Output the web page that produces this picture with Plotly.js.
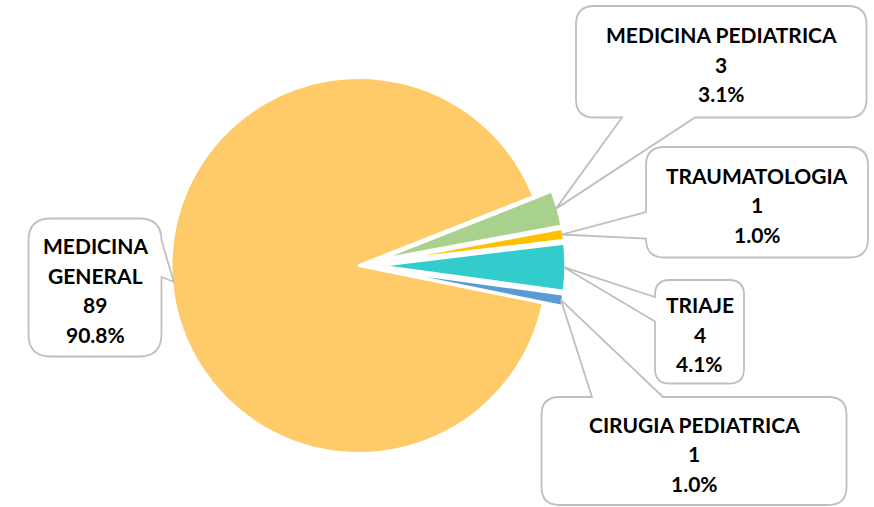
<!DOCTYPE html>
<html>
<head>
<meta charset="utf-8">
<script src="https://cdn.plot.ly/plotly-3.0.1.min.js"></script>
<style>
  html, body { margin: 0; padding: 0; background: #ffffff; }
  #chart { width: 874px; height: 507px; }
</style>
</head>
<body>
<div id="chart"></div>
<script>
// ---- data ----
const categories = ['MEDICINA GENERAL', 'MEDICINA PEDIATRICA', 'TRAUMATOLOGIA', 'TRIAJE', 'CIRUGIA PEDIATRICA'];
const values = [89, 3, 1, 4, 1];
const labelLines = [['MEDICINA', 'GENERAL'], ['MEDICINA PEDIATRICA'], ['TRAUMATOLOGIA'], ['TRIAJE'], ['CIRUGIA PEDIATRICA']];

// ---- styling / layout ----
const colors = ['#FFCB69', '#A9D18E', '#FFC000', '#33CCCC', '#5B9BD5'];
const pulls = [0, 0.1, 0.1, 0.1, 0.1];
const W = 874, H = 507;
const CX = 359, CY = 265.5, R = 188, ROT = 101.5;
const LINE_W = 3;
const FONT = {family: 'Lato, "Open Sans", sans-serif', size: 21, color: '#000000', weight: 700};
const LINE_GAP = 29.5, TEXT_OFF = 2.5;

// callout boxes (pixels): x0,x1,y0,y1, side of tail, tail base positions
const boxes = [
  {x0: 28.5, x1: 161.5, y0: 218.5, y1: 356.5, side: 'right', b1: 240, b2: 277},
  {x0: 576, x1: 866.5, y0: 6, y1: 117.5, side: 'bottom', b1: 622, b2: 695},
  {x0: 646, x1: 868, y0: 147, y1: 257.5, side: 'left', b1: 212, b2: 238.5},
  {x0: 655, x1: 744, y0: 280, y1: 383.5, side: 'left', b1: 297, b2: 321.5},
  {x0: 541.5, x1: 846.5, y0: 397, y1: 505, side: 'top', b1: 592, b2: 663}
];

const total = values.reduce((a, b) => a + b, 0);
const maxPull = Math.max.apply(null, pulls);
const half = R * (1 + maxPull);
const domain = {
  x: [(CX - half) / W, (CX + half) / W],
  y: [1 - (CY + half) / H, 1 - (CY - half) / H]
};

const px = x => x / W;
const py = y => 1 - y / H;
const P = (x, y) => px(x).toFixed(5) + ',' + py(y).toFixed(5);

// tip points on slice rims from data
let cum = 0;
const tips = values.map((v, i) => {
  const mid = (ROT + (cum + v / 2) / total * 360) * Math.PI / 180;
  cum += v;
  const d = pulls[i] * R + R - LINE_W / 2 - 0.5;
  return [CX + d * Math.sin(mid), CY - d * Math.cos(mid)];
});

function callout(b, tip) {
  const r = Math.min(b.x1 - b.x0, b.y1 - b.y0) * 0.1667;
  const T = P(tip[0], tip[1]);
  let s = 'M' + P(b.x0 + r, b.y0);
  if (b.side === 'top') s += ' L' + P(b.b1, b.y0) + ' L' + T + ' L' + P(b.b2, b.y0);
  s += ' L' + P(b.x1 - r, b.y0) + ' Q' + P(b.x1, b.y0) + ' ' + P(b.x1, b.y0 + r);
  if (b.side === 'right') s += ' L' + P(b.x1, b.b1) + ' L' + T + ' L' + P(b.x1, b.b2);
  s += ' L' + P(b.x1, b.y1 - r) + ' Q' + P(b.x1, b.y1) + ' ' + P(b.x1 - r, b.y1);
  if (b.side === 'bottom') s += ' L' + P(b.b2, b.y1) + ' L' + T + ' L' + P(b.b1, b.y1);
  s += ' L' + P(b.x0 + r, b.y1) + ' Q' + P(b.x0, b.y1) + ' ' + P(b.x0, b.y1 - r);
  if (b.side === 'left') s += ' L' + P(b.x0, b.b2) + ' L' + T + ' L' + P(b.x0, b.b1);
  s += ' L' + P(b.x0, b.y0 + r) + ' Q' + P(b.x0, b.y0) + ' ' + P(b.x0 + r, b.y0) + ' Z';
  return s;
}

const shapes = boxes.map((b, i) => ({
  type: 'path', xref: 'paper', yref: 'paper', layer: 'above',
  path: callout(b, tips[i]),
  fillcolor: '#ffffff',
  line: {color: '#BFBFBF', width: 1.8}
}));

const annotations = [];
boxes.forEach((b, i) => {
  const lines = labelLines[i].concat([String(values[i]), (values[i] / total * 100).toFixed(1) + '%']);
  const cy = (b.y0 + b.y1) / 2 + TEXT_OFF;
  const cx = (b.x0 + b.x1) / 2;
  lines.forEach((t, k) => {
    const y = cy + (k - (lines.length - 1) / 2) * LINE_GAP;
    annotations.push({
      xref: 'paper', yref: 'paper', x: px(cx), y: py(y),
      xanchor: 'center', yanchor: 'middle', showarrow: false,
      text: t, font: FONT
    });
  });
});

const trace = {
  type: 'pie',
  labels: categories,
  values: values,
  sort: false,
  direction: 'clockwise',
  rotation: ROT,
  pull: pulls,
  marker: {colors: colors, line: {color: '#ffffff', width: LINE_W}},
  textinfo: 'none',
  hoverinfo: 'label+value+percent',
  showlegend: false,
  domain: domain
};

const layout = {
  width: W, height: H,
  margin: {l: 0, r: 0, t: 0, b: 0},
  paper_bgcolor: '#ffffff',
  plot_bgcolor: '#ffffff',
  showlegend: false,
  shapes: shapes,
  annotations: annotations
};

Plotly.newPlot('chart', [trace], layout, {staticPlot: true, displayModeBar: false});
</script>
</body>
</html>
